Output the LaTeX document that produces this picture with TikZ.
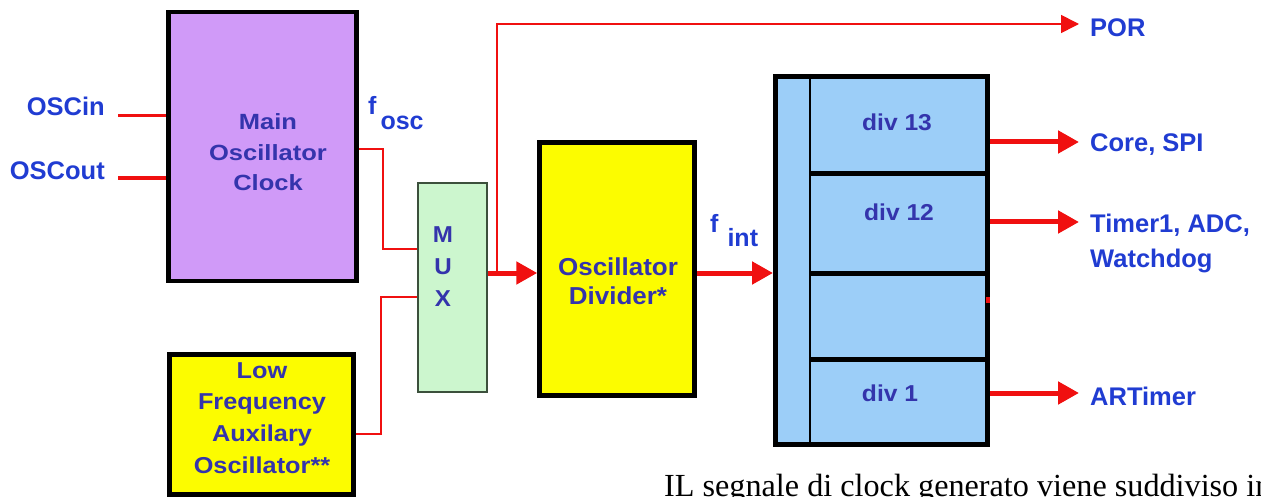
\documentclass[tikz,border=0pt]{standalone}
\usepackage{fontspec}
\setmainfont{Liberation Sans}
\newfontfamily\capfont{Liberation Serif}
\usepackage{graphicx}
\usetikzlibrary{arrows.meta}
\definecolor{purp}{RGB}{208,154,248}
\definecolor{yel}{RGB}{252,252,0}
\definecolor{mgreen}{RGB}{204,246,206}
\definecolor{muxgray}{RGB}{60,80,60}
\definecolor{lblu}{RGB}{156,206,248}
\definecolor{wred}{RGB}{240,16,16}
\definecolor{labblue}{RGB}{32,60,210}
\definecolor{inblue}{RGB}{52,52,172}
\tikzset{
  box/.style={draw=black, line width=4.5pt, inner sep=0pt},
  lbl/.style={text=labblue, font=\fontsize{25.5}{35}\selectfont\bfseries, inner sep=0pt},
  intxt/.style={text=inblue, inner sep=0pt},
  wire/.style={draw=wred, line width=2pt},
  bigarrow/.style={draw=wred, line width=5pt, -{Triangle[length=21pt,width=22pt]}},
  porarrow/.style={draw=wred, line width=1.6pt, -{Triangle[length=18pt,width=18pt]}},
}
\begin{document}
\begin{tikzpicture}[x=1pt,y=-1pt]
\useasboundingbox (0,0) rectangle (1261,497);
\clip (0,0) rectangle (1261,497);
% boxes
\node[box, fill=purp, minimum width=188pt, minimum height=269pt] (main) at (262.5,146.5) {};
\node[box, fill=yel, minimum width=184pt, minimum height=140pt] (lf) at (261.5,424.5) {};
\node[draw=muxgray, line width=2pt, fill=mgreen, inner sep=0pt, minimum width=69pt, minimum height=209pt] (mux) at (452.5,287.5) {};
\node[box, fill=yel, minimum width=155pt, minimum height=253pt] (osc) at (617,269) {};
\node[box, line width=5pt, fill=lblu, minimum width=212pt, minimum height=368pt] (big) at (881.5,260.5) {};
% inner structure of divider block
\draw[line width=2pt] (810,76 |- big.north) -- (810,76 |- big.south);
\draw[line width=5pt] (810,174) -- (big.east |- 0,174);
\draw[line width=5pt] (810,273) -- (big.east |- 0,273);
\draw[line width=5pt] (810,359) -- (big.east |- 0,359);
% box texts
\node[intxt, anchor=base, font=\fontsize{22}{30.5}\selectfont\bfseries] (mainT) at (268,130)
  {\scalebox{1.16}[1]{\begin{tabular}[t]{@{}c@{}}Main\\Oscillator\\Clock\end{tabular}}};
\node[intxt, anchor=base, font=\fontsize{23}{31.7}\selectfont\bfseries] (lfT) at (262,378)
  {\scalebox{1.1}[1]{\begin{tabular}[t]{@{}c@{}}Low\\Frequency\\Auxilary\\Oscillator**\end{tabular}}};
\node[intxt, anchor=base, font=\fontsize{23}{32}\selectfont\bfseries] (muxT) at (443,243)
  {\scalebox{1.05}[1]{\begin{tabular}[t]{@{}c@{}}M\\U\\X\end{tabular}}};
\node[intxt, anchor=base, font=\fontsize{24.5}{29.5}\selectfont\bfseries] (oscT) at (618,275)
  {\scalebox{1.06}[1]{\begin{tabular}[t]{@{}c@{}}Oscillator\\Divider*\end{tabular}}};
\node[intxt, anchor=base, font=\fontsize{23}{28}\selectfont\bfseries] (d13) at (897,131) {\scalebox{1.07}[1]{div 13}};
\node[intxt, anchor=base, font=\fontsize{23}{28}\selectfont\bfseries] (d12) at (899,221) {\scalebox{1.07}[1]{div 12}};
\node[intxt, anchor=base, font=\fontsize{23}{28}\selectfont\bfseries] (d1) at (890,401) {\scalebox{1.07}[1]{div 1}};
% outside labels
\node[lbl, anchor=base east] (oscin) at (105,116) {OSCin};
\node[lbl, anchor=base east] (oscout) at (105,180) {OSCout};
\node[lbl, anchor=base west, font=\fontsize{25}{30}\selectfont\bfseries] (fosc) at (368,115) {f\hspace{4pt}\raisebox{-15pt}{osc}};
\node[lbl, anchor=base west, font=\fontsize{25}{30}\selectfont\bfseries] (fint) at (710,233) {f\hspace{9pt}\raisebox{-14pt}{int}};
\node[lbl, anchor=base west] (por) at (1090,37) {POR};
\node[lbl, anchor=base west] (core) at (1090,152) {Core, SPI};
\node[lbl, anchor=base west] (timer) at (1090,233) {\begin{tabular}[t]{@{}l@{}}Timer1, ADC,\\Watchdog\end{tabular}};
\node[lbl, anchor=base west] (art) at (1090,405) {ARTimer};
% caption
\node[anchor=base west, inner sep=0pt, font=\capfont\fontsize{32.2}{36}\selectfont] (cap) at (664,496.5) {IL segnale di clock generato viene suddiviso in};
% input wires
\coordinate (inS) at (118,116);
\coordinate (outS) at (118,178);
\draw[draw=wred, line width=3pt] (inS) -- (main.west |- inS);
\draw[draw=wred, line width=4.5pt] (outS) -- (main.west |- outS);
% fosc wire
\coordinate (fo1) at (383,149);
\coordinate (fo2) at (383,249);
\draw[wire] (main.east |- fo1) -- (fo1) -- (fo2) -- (mux.west |- fo2);
% LF wire
\coordinate (lw1) at (381,434);
\coordinate (lw2) at (381,297);
\draw[wire] (lf.east |- lw1) -- (lw1) -- (lw2) -- (mux.west |- lw2);
% mux output
\coordinate (sig) at (497,273);
\draw[bigarrow] (mux.east |- sig) -- (osc.west |- sig);
\coordinate (porT) at (1079,24);
\draw[porarrow] (sig) |- (porT);
% fint arrow
\draw[bigarrow] (osc.east |- sig) -- (big.west |- sig);
% outputs
\coordinate (o13) at (1079,142);
\coordinate (o12) at (1079,222);
\coordinate (o1) at (1079,393);
\draw[bigarrow] (big.east |- o13) -- (o13);
\draw[bigarrow] (big.east |- o12) -- (o12);
\draw[bigarrow] (big.east |- o1) -- (o1);
\fill[wred] (986,297) rectangle (990,303);
\end{tikzpicture}
\end{document}
